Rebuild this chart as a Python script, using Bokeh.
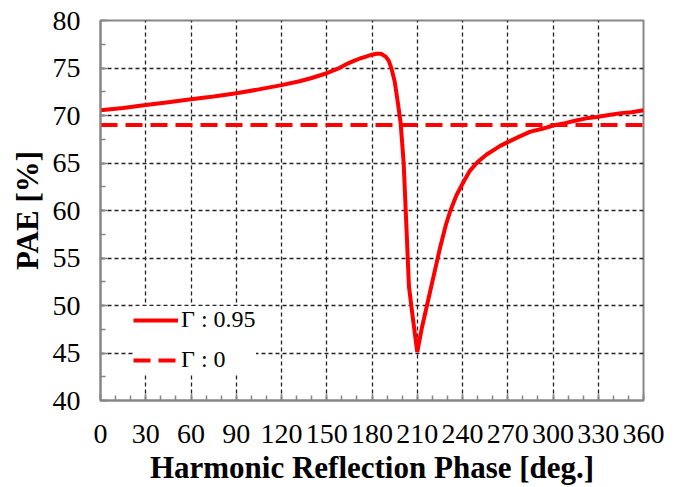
from bokeh.plotting import figure
from bokeh.models import Range1d, SingleIntervalTicker, Legend, LegendItem
from bokeh.embed import file_html
from bokeh.resources import INLINE

# ---- data ----
phase_095 = [0, 15, 30, 45, 60, 75, 90, 105, 120, 132, 140, 150, 157, 163, 168, 172,
             176, 180, 183, 186, 189, 191, 193, 195, 197, 199, 201, 203, 204.5, 207,
             210, 213, 217, 221, 225, 229, 232, 236, 241, 245, 250, 256, 265, 270,
             278, 285, 293, 300, 308, 316, 322, 329, 337, 345, 352, 360]
pae_095 = [70.55, 70.8, 71.1, 71.4, 71.7, 72.0, 72.35, 72.75, 73.2, 73.6, 73.95, 74.45,
           74.9, 75.4, 75.75, 76.0, 76.2, 76.4, 76.5, 76.5, 76.2, 75.8, 74.9, 73.6,
           71.5, 69.2, 65.0, 57.6, 52.0, 48.8, 45.1, 47.6, 50.4, 53.2, 56.0, 58.5,
           60.0, 61.6, 63.1, 64.2, 65.1, 65.9, 66.8, 67.2, 67.8, 68.3, 68.6, 68.95,
           69.2, 69.5, 69.7, 69.85, 70.05, 70.25, 70.35, 70.55]
phase_0 = [0, 360]
pae_0 = [69.0, 69.0]

label_095 = "Γ : 0.95"
label_0 = "Γ : 0"
x_title = "Harmonic Reflection Phase [deg.]"
y_title = "PAE [%]"

RED = "#FF0000"
AXIS_GRAY = "#868686"
SERIF = "Liberation Serif"

p = figure(width=687, height=487, output_backend="svg", toolbar_location=None,
           x_range=Range1d(0, 360), y_range=Range1d(40, 80),
           min_border_left=100, min_border_right=44, min_border_top=20,
           min_border_bottom=86)

r1 = p.line(phase_095, pae_095, line_color=RED, line_width=4)
r2 = p.line(phase_0, pae_0, line_color=RED, line_width=4, line_dash="17 8")

p.xaxis.ticker = SingleIntervalTicker(interval=30, num_minor_ticks=3)
p.yaxis.ticker = SingleIntervalTicker(interval=5, num_minor_ticks=2)

for ax in (p.xaxis[0], p.yaxis[0]):
    ax.axis_line_color = AXIS_GRAY
    ax.axis_line_width = 2
    ax.major_tick_line_color = AXIS_GRAY
    ax.minor_tick_line_color = AXIS_GRAY
    ax.major_tick_line_width = 1.5
    ax.minor_tick_line_width = 1.5
    ax.major_tick_in = 7
    ax.major_tick_out = 0
    ax.minor_tick_in = 5
    ax.minor_tick_out = 0
    ax.major_label_text_font = SERIF
    ax.major_label_text_font_size = "28px"
    ax.major_label_text_color = "black"
    ax.axis_label_text_font = SERIF
    ax.axis_label_text_font_style = "bold"
    ax.axis_label_text_font_size = "31px"
    ax.axis_label_text_color = "black"

p.xaxis.axis_label = x_title
p.yaxis.axis_label = y_title
p.xaxis.major_label_standoff = 24
p.yaxis.major_label_standoff = 20
p.xaxis.axis_label_standoff = 4
p.yaxis.axis_label_standoff = 5

for g in (p.xgrid[0], p.ygrid[0]):
    g.grid_line_color = "#222222"
    g.grid_line_width = 1.3
    g.grid_line_dash = "4 3"

p.outline_line_color = AXIS_GRAY
p.outline_line_width = 2
p.background_fill_color = "white"
p.border_fill_color = "white"

legend = Legend(items=[LegendItem(label=label_095, renderers=[r1]),
                       LegendItem(label=label_0, renderers=[r2])],
                location=(33, 27), orientation="vertical",
                glyph_width=45, glyph_height=20, label_standoff=3,
                label_text_font=SERIF, label_text_font_size="24px",
                label_text_color="black", spacing=13, padding=10, margin=0,
                border_line_color=None, background_fill_color="white",
                background_fill_alpha=1.0)
p.add_layout(legend, "center")

open("out.html", "w").write(file_html(p, INLINE))
